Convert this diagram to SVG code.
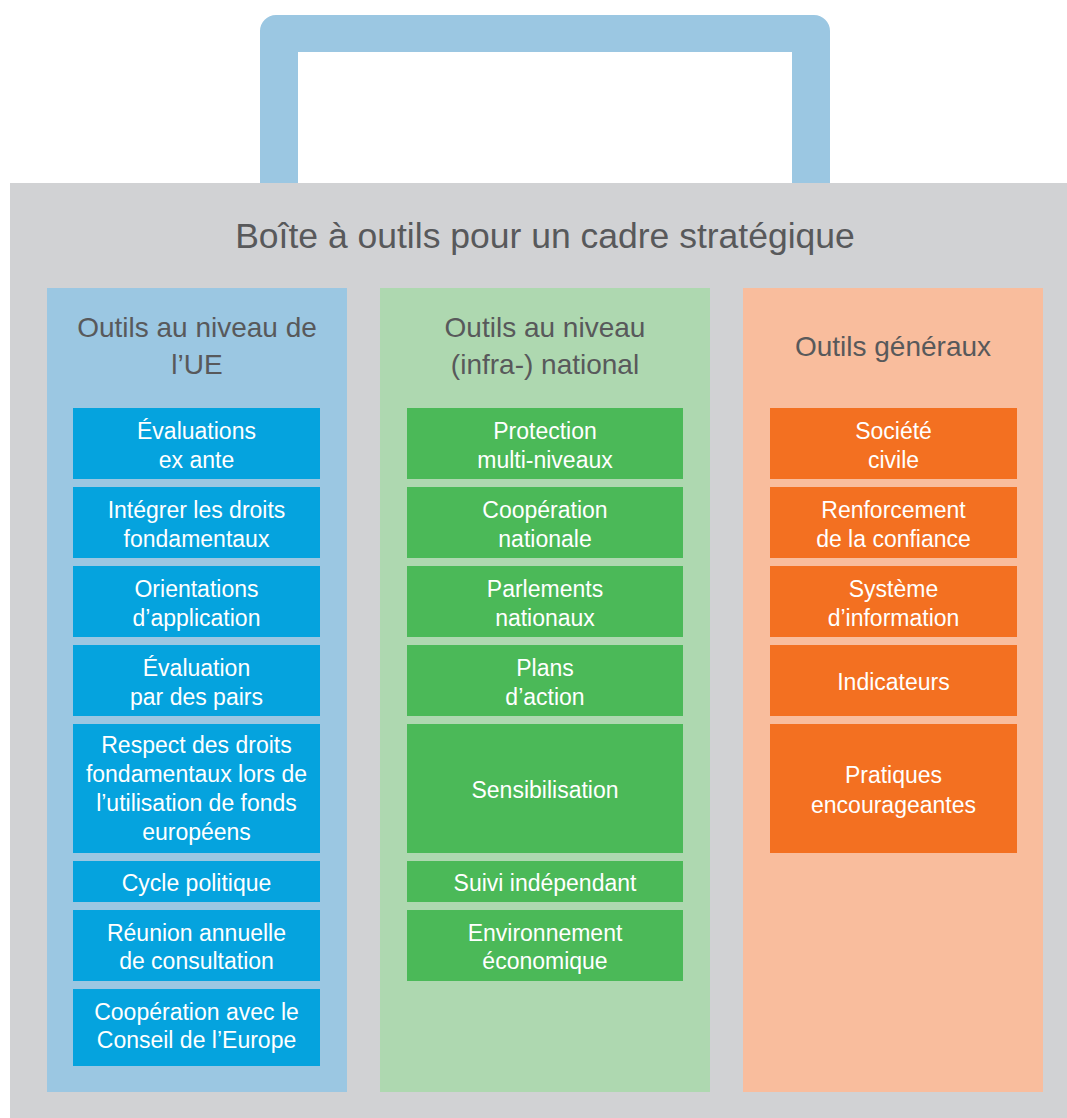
<svg xmlns="http://www.w3.org/2000/svg" width="1067" height="1118" viewBox="0 0 1067 1118">
<style>
.t{font-family:"Liberation Sans",Arial,sans-serif;text-anchor:middle}
.title{font-size:35.5px;fill:#58595b}
.hd{font-size:28px;fill:#58595b}
.bx{font-size:23px;fill:#ffffff}
.cb{fill:#05a3de}
.cg{fill:#4bb958}
.co{fill:#f37021}
</style>
<rect width="1067" height="1118" fill="#ffffff"/>
<g id="handle">
<path d="M260,183 V31 A16,16 0 0 1 276,15 H814 A16,16 0 0 1 830,31 V183 H792 V52 H298 V183 Z" fill="#9bc7e2"/>
</g>
<g id="toolbox">
<rect x="10" y="183" width="1057" height="935" fill="#d1d2d4"/>
<text class="t title" x="545" y="248">Boîte à outils pour un cadre stratégique</text>
</g>
<g id="col-eu">
<rect x="47" y="288" width="300" height="804" fill="#9bc7e2"/>
<text class="t hd" x="197" y="337">Outils au niveau de</text>
<text class="t hd" x="197" y="374">l’UE</text>
</g>
<g id="col-national">
<rect x="380" y="288" width="330" height="804" fill="#aed8b0"/>
<text class="t hd" x="545" y="337">Outils au niveau</text>
<text class="t hd" x="545" y="374">(infra-) national</text>
</g>
<g id="col-general">
<rect x="743" y="288" width="300" height="804" fill="#f9bd9d"/>
<text class="t hd" x="893" y="356">Outils généraux</text>
</g>
<g id="eu-1"><rect class="cb" x="73" y="408" width="247" height="71"/><text class="t bx" x="196.5" y="439">Évaluations</text><text class="t bx" x="196.5" y="468">ex ante</text></g>
<g id="eu-2"><rect class="cb" x="73" y="487" width="247" height="71"/><text class="t bx" x="196.5" y="518">Intégrer les droits</text><text class="t bx" x="196.5" y="547">fondamentaux</text></g>
<g id="eu-3"><rect class="cb" x="73" y="566" width="247" height="71"/><text class="t bx" x="196.5" y="597">Orientations</text><text class="t bx" x="196.5" y="626">d’application</text></g>
<g id="eu-4"><rect class="cb" x="73" y="645" width="247" height="71"/><text class="t bx" x="196.5" y="676">Évaluation</text><text class="t bx" x="196.5" y="705">par des pairs</text></g>
<g id="eu-5"><rect class="cb" x="73" y="724" width="247" height="129"/><text class="t bx" x="196.5" y="753">Respect des droits</text><text class="t bx" x="196.5" y="782">fondamentaux lors de</text><text class="t bx" x="196.5" y="811">l’utilisation de fonds</text><text class="t bx" x="196.5" y="840">européens</text></g>
<g id="eu-6"><rect class="cb" x="73" y="861" width="247" height="41"/><text class="t bx" x="196.5" y="891">Cycle politique</text></g>
<g id="eu-7"><rect class="cb" x="73" y="910" width="247" height="71"/><text class="t bx" x="196.5" y="941">Réunion annuelle</text><text class="t bx" x="196.5" y="969">de consultation</text></g>
<g id="eu-8"><rect class="cb" x="73" y="989" width="247" height="77"/><text class="t bx" x="196.5" y="1020">Coopération avec le</text><text class="t bx" x="196.5" y="1048">Conseil de l’Europe</text></g>
<g id="nat-1"><rect class="cg" x="407" y="408" width="276" height="71"/><text class="t bx" x="545" y="439">Protection</text><text class="t bx" x="545" y="468">multi-niveaux</text></g>
<g id="nat-2"><rect class="cg" x="407" y="487" width="276" height="71"/><text class="t bx" x="545" y="518">Coopération</text><text class="t bx" x="545" y="547">nationale</text></g>
<g id="nat-3"><rect class="cg" x="407" y="566" width="276" height="71"/><text class="t bx" x="545" y="597">Parlements</text><text class="t bx" x="545" y="626">nationaux</text></g>
<g id="nat-4"><rect class="cg" x="407" y="645" width="276" height="71"/><text class="t bx" x="545" y="676">Plans</text><text class="t bx" x="545" y="705">d’action</text></g>
<g id="nat-5"><rect class="cg" x="407" y="724" width="276" height="129"/><text class="t bx" x="545" y="798">Sensibilisation</text></g>
<g id="nat-6"><rect class="cg" x="407" y="861" width="276" height="41"/><text class="t bx" x="545" y="891">Suivi indépendant</text></g>
<g id="nat-7"><rect class="cg" x="407" y="910" width="276" height="71"/><text class="t bx" x="545" y="941">Environnement</text><text class="t bx" x="545" y="969">économique</text></g>
<g id="gen-1"><rect class="co" x="770" y="408" width="247" height="71"/><text class="t bx" x="893.5" y="439">Société</text><text class="t bx" x="893.5" y="468">civile</text></g>
<g id="gen-2"><rect class="co" x="770" y="487" width="247" height="71"/><text class="t bx" x="893.5" y="518">Renforcement</text><text class="t bx" x="893.5" y="547">de la confiance</text></g>
<g id="gen-3"><rect class="co" x="770" y="566" width="247" height="71"/><text class="t bx" x="893.5" y="597">Système</text><text class="t bx" x="893.5" y="626">d’information</text></g>
<g id="gen-4"><rect class="co" x="770" y="645" width="247" height="71"/><text class="t bx" x="893.5" y="690">Indicateurs</text></g>
<g id="gen-5"><rect class="co" x="770" y="724" width="247" height="129"/><text class="t bx" x="893.5" y="783">Pratiques</text><text class="t bx" x="893.5" y="813">encourageantes</text></g>
<g id="connectors"/>
</svg>
